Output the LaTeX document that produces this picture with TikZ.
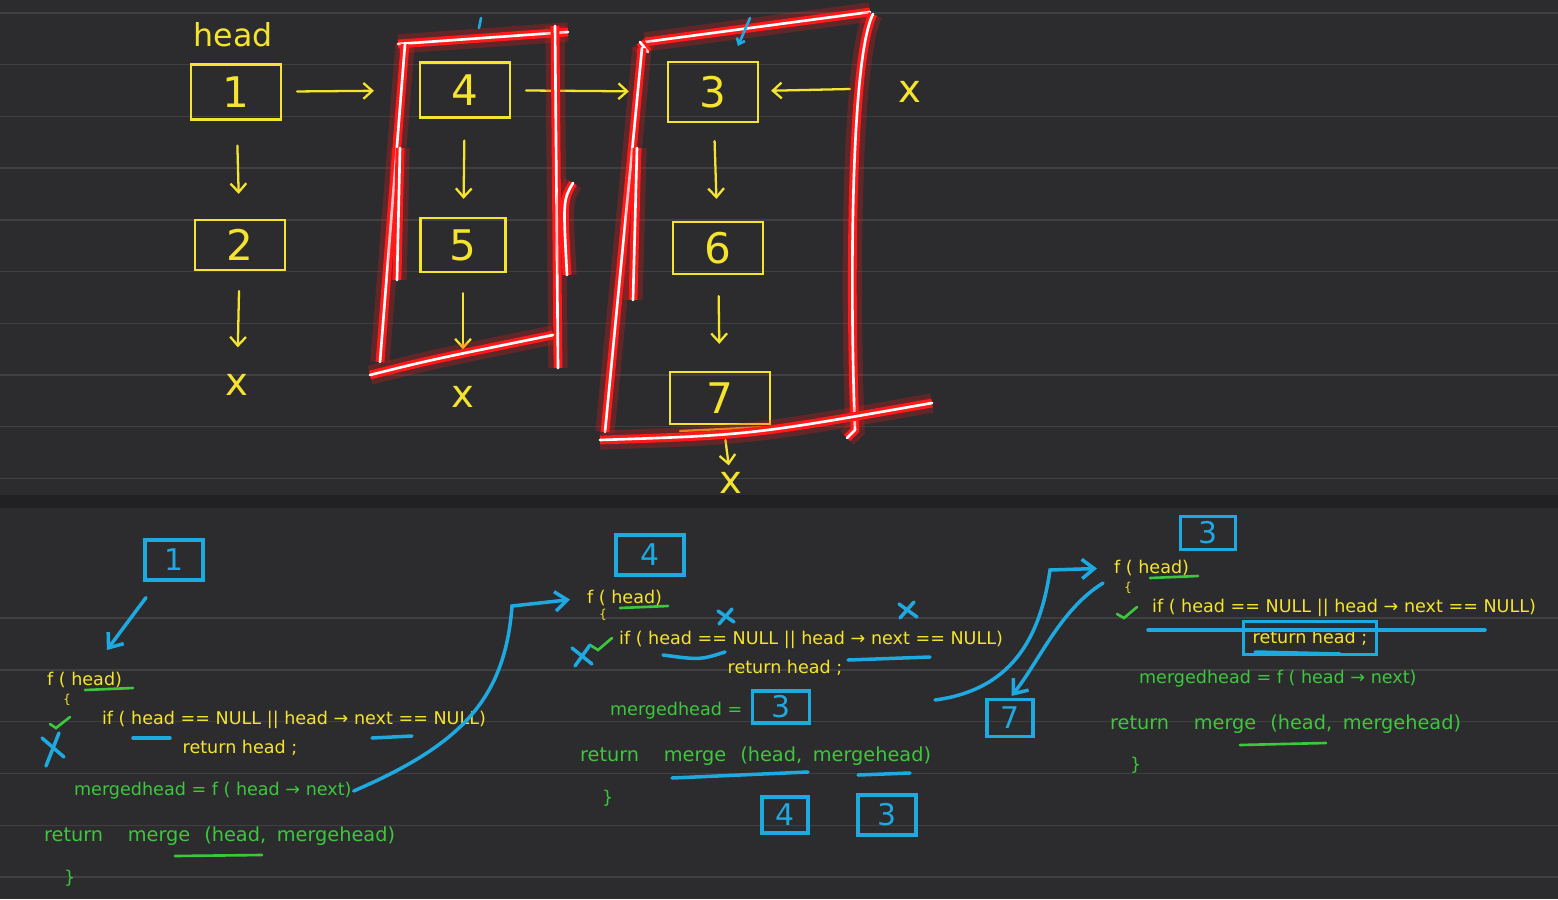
\documentclass[tikz,border=0pt]{standalone}
\usepackage{fontspec}
\setmainfont{DejaVu Sans}
\usetikzlibrary{arrows.meta, positioning, calc}
\definecolor{board}{RGB}{44,43,46}
\definecolor{boardband}{RGB}{33,32,35}
\definecolor{ruling}{RGB}{64,64,67}
\definecolor{chalkyellow}{RGB}{245,228,45}
\definecolor{chalkgreen}{RGB}{60,200,60}
\definecolor{chalkblue}{RGB}{30,170,225}
\definecolor{chalkred}{RGB}{255,25,25}
\definecolor{chalkorange}{RGB}{225,160,30}

\begin{document}
\begin{tikzpicture}[
  x=0.02cm, y=-0.02cm,
  listnode/.style = {draw=chalkyellow, line width=1.3pt, minimum width=1.8cm,
                     minimum height=1.1cm, text=chalkyellow,
                     font=\fontsize{24}{26}\selectfont},
  callbox/.style  = {draw=chalkblue, line width=1.8pt, minimum width=1.16cm,
                     minimum height=0.8cm, inner sep=0pt, text=chalkblue,
                     font=\fontsize{17}{19}\selectfont},
  nullmark/.style = {text=chalkyellow, font=\fontsize{22}{24}\selectfont, inner sep=1pt},
  ycode/.style    = {text=chalkyellow, font=\fontsize{10}{12}\selectfont,
                     inner sep=1pt, anchor=west},
  gcode/.style    = {ycode, text=chalkgreen},
  mcode/.style    = {gcode, font=\fontsize{11}{13}\selectfont},
  brace/.style    = {text=chalkyellow, font=\fontsize{7}{8}\selectfont, inner sep=0pt},
  larrow/.style   = {-{Straight Barb[length=5pt,width=9pt]}, chalkyellow,
                     line width=1.3pt, line cap=round},
  carrow/.style   = {-{Straight Barb[length=7pt,width=11pt]}, chalkblue,
                     line width=2pt, line cap=round},
  glow/.style     = {white, line width=1.5pt, line cap=round, line join=round,
                     preaction={draw=chalkred, line width=11pt, opacity=0.25},
                     preaction={draw=chalkred, line width=5pt}},
  bmark/.style    = {chalkblue, line width=2pt, line cap=round},
  gmark/.style    = {chalkgreen, line width=1.5pt, line cap=round},
]
\useasboundingbox (0,0) rectangle (1558,899);

%% --- Board ---
\fill[board] (0,0) rectangle (1558,899);
\foreach \k in {0,...,9}
  \draw[ruling, line width=0.8pt] (0,{13+51.7*\k}) -- (1558,{13+51.7*\k});
\foreach \k in {0,...,5}
  \draw[ruling, line width=0.8pt] (0,{618+51.8*\k}) -- (1558,{618+51.8*\k});
\fill[boardband] (0,495) rectangle (1558,508);

%% --- Column 1: list 1 -> 2 ---
\node[text=chalkyellow, font=\fontsize{18}{20}\selectfont] (headlbl) at (233,35) {head};
\node[listnode] (n1) at (236,92) {1};
\node[listnode, minimum height=1cm] (n2) at (240,245) {2};
\node[nullmark] (x1) at (237,385) {x};

%% --- Column 2: list 4 -> 5 ---
\node[listnode, minimum width=1.8cm] (n4) at (465,90) {4};
\node[listnode, minimum width=1.7cm, minimum height=1.08cm] (n5) at (463,245) {5};
\node[nullmark] (x2) at (463,397) {x};

%% --- Column 3: list 3 -> 6 -> 7 ---
\node[listnode, minimum height=1.2cm] (n3) at (713,92) {3};
\node[listnode, minimum height=1.04cm] (n6) at (718,248) {6};
\node[listnode, minimum width=2cm, minimum height=1.04cm] (n7) at (720,398) {7};
\node[nullmark] (x3) at (910,92) {x};
\node[nullmark] (x4) at (731,483) {x};
\coordinate (tail3) at (850,89);

%% --- Arrows top ---
\draw[larrow, shorten <=0.5cm, shorten >=0.5cm] (n1) -- (n2);
\draw[larrow, shorten <=0.4cm, shorten >=0.5cm] (n2) -- (x1);
\draw[larrow, shorten <=0.3cm, shorten >=0.9cm] (n1) -- (n4);
\draw[larrow, shorten <=0.44cm, shorten >=0.36cm] (n4) -- (n5);
\draw[larrow, shorten <=0.4cm, shorten >=0.7cm] (n5) -- (x2);
\draw[larrow, shorten <=0.3cm, shorten >=0.76cm] (n4) -- (n3);
\draw[larrow, shorten >=0.24cm] (tail3) -- (n3);
\draw[larrow, shorten <=0.36cm, shorten >=0.44cm] (n3) -- (n6);
\draw[larrow, shorten <=0.42cm, shorten >=0.54cm] (n6) -- (n7);
\draw[larrow, shorten <=0.3cm, shorten >=0.1cm] (n7) -- (x4);
\draw[chalkorange, line width=1.3pt, line cap=round] (680,431) -- (765,427);

%% --- Red frames ---
\draw[glow] (398,44) -- (568,32);
\draw[glow] (555,26) -- (558,368);
\draw[glow] (405,44) -- (380,362);
\draw[glow] (370,375) .. controls (430,360) .. (553,335);
\draw[glow] (400,148) -- (397,280);
\draw[glow] (573,183) .. controls (563,200) .. (567,275);
\draw[glow] (645,42) -- (870,12);
\draw[glow] (640,42) -- (648,52);
\draw[glow] (873,14) .. controls (850,60) and (850,300) .. (855,430) -- (847,438);
\draw[glow] (642,48) -- (605,432);
\draw[glow] (600,440) .. controls (750,435) .. (932,403);
\draw[glow] (637,148) -- (633,300);
\draw[bmark, line width=1.5pt] (481,18) -- (479,28);
\draw[bmark, line width=1.5pt, -{Straight Barb[length=3pt,width=5pt]}] (750,18) -- (738,46);

%% --- Call f(1) ---
\node[callbox] (b1) at (174,560) {1};
\node[ycode] (f1) at (45,680) {f ( head)};
\node[brace] (ob1) at (67,700) {\{};
\node[ycode] (if1) at (100,720) {if ( head == NULL || head → next == NULL)};
\node[ycode, anchor=center] (ret1) at (240,748) {return head ;};
\node[gcode] (mh1) at (72,791) {mergedhead = f ( head → next)};
\node[mcode] (rm1) at (42,836) {return\hspace{14pt}merge\hspace{8pt}(head,\hspace{6pt}mergehead)};
\node[gcode] (cb1) at (62,878) {\}};
\draw[carrow, shorten <=0.4cm, shorten >=0.5cm] (b1) -- (f1);
\draw[gmark] (85,690) -- (133,688);
\draw[gmark] (50,724) -- (56,728) -- (70,717);
\draw[bmark] (42,738) -- (64,757);
\draw[bmark] (46,766) -- (59,733);
\draw[bmark] (133,738) -- (170,738);
\draw[bmark] (372,738) -- (412,736);
\draw[gmark] (175,856) -- (262,855);

%% --- Call f(4) ---
\node[callbox, minimum width=1.36cm] (b4) at (650,555) {4};
\node[ycode] (f2) at (585,598) {f ( head)};
\node[brace] (ob2) at (603,615) {\{};
\node[ycode] (if2) at (617,640) {if ( head == NULL || head → next == NULL)};
\node[ycode, anchor=center] (ret2) at (785,668) {return head ;};
\node[gcode] (mh2) at (608,711) {mergedhead =};
\node[callbox, minimum width=1.14cm, minimum height=0.64cm] (b3a) at (781,707) {3};
\node[mcode] (rm2) at (578,756) {return\hspace{14pt}merge\hspace{8pt}(head,\hspace{6pt}mergehead)};
\node[gcode] (cb2) at (600,798) {\}};
\node[callbox, minimum width=0.92cm, minimum height=0.72cm] (b4b) at (785,815) {4};
\node[callbox] (b3b) at (887,815) {3};
\draw[carrow, shorten >=0.3cm] (mh1.east) .. controls (460,745) and (505,700) .. (512,606) -- (f2.west);
\draw[gmark] (620,608) -- (668,606);
\draw[gmark] (590,645) -- (598,650) -- (612,638);
\draw[bmark] (572,648) -- (592,664);
\draw[bmark] (575,666) -- (590,645);
\draw[bmark] (718,611) -- (734,622);
\draw[bmark] (719,624) -- (732,609);
\draw[bmark] (899,604) -- (917,617);
\draw[bmark] (900,618) -- (914,602);
\draw[bmark] (663,655) .. controls (700,660) .. (725,652);
\draw[bmark] (848,660) -- (930,657);
\draw[bmark] (672,778) -- (808,772);
\draw[bmark] (858,775) -- (910,773);

%% --- Call f(3) ---
\node[callbox, minimum width=1.1cm, minimum height=0.66cm] (b3c) at (1208,533) {3};
\node[ycode] (f3) at (1112,568) {f ( head)};
\node[brace] (ob3) at (1128,588) {\{};
\node[ycode] (if3) at (1150,608) {if ( head == NULL || head → next == NULL)};
\node[ycode, anchor=center, draw=chalkblue, line width=1.8pt, inner sep=5pt] (ret3) at (1310,638) {return head ;};
\node[gcode] (mh3) at (1137,679) {mergedhead = f ( head → next)};
\node[mcode] (rm3) at (1108,724) {return\hspace{14pt}merge\hspace{8pt}(head,\hspace{6pt}mergehead)};
\node[gcode] (cb3) at (1128,765) {\}};
\node[callbox, minimum width=0.92cm, minimum height=0.74cm] (b7) at (1010,718) {7};
\coordinate (call3) at (935,700);
\coordinate (back3) at (1103,583);
\draw[carrow, shorten >=0.3cm] (call3) .. controls (1010,690) and (1040,640) .. (1050,570) -- (f3.west);
\draw[carrow, shorten >=0.05cm] (back3) .. controls (1060,610) and (1040,660) .. (b7.north);
\draw[gmark] (1150,578) -- (1198,576);
\draw[gmark] (1117,614) -- (1124,618) -- (1137,607);
\draw[bmark] (1148,630) -- (1485,630);
\draw[bmark] (1255,652) -- (1340,654);
\draw[gmark] (1240,745) -- (1326,743);

\end{tikzpicture}
\end{document}
